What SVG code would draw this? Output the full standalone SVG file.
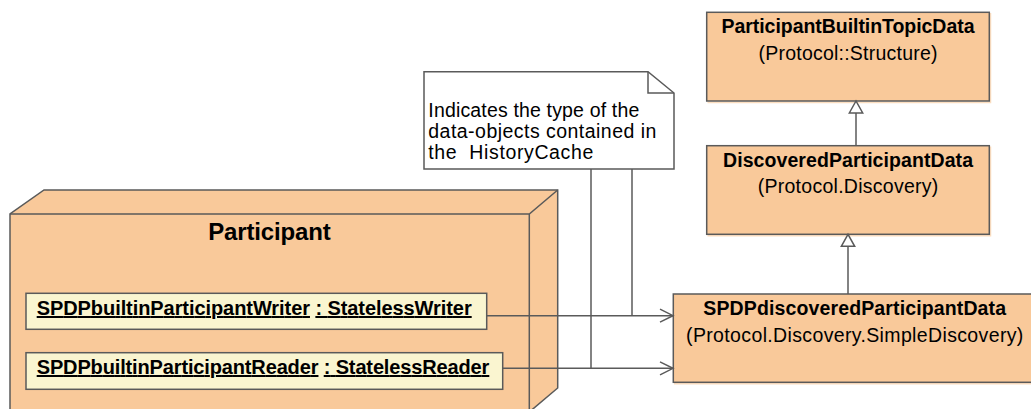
<svg xmlns="http://www.w3.org/2000/svg" width="1031" height="409" viewBox="0 0 1031 409">
<defs>
<style>
.node{fill:#F9C99A;stroke:#5A5A5A;stroke-width:1.5}
.hl{fill:none;stroke:#FCDEC0;stroke-width:1.5}
.part{fill:#FAF5D0;stroke:#5A5A5A;stroke-width:1.5}
.note{fill:#FFFFFF;stroke:#5A5A5A;stroke-width:1.5}
.edge{fill:none;stroke:#5A5A5A;stroke-width:1.5}
text{font-family:"Liberation Sans",Arial,Helvetica,sans-serif;fill:#000000}
.b{font-weight:bold;font-size:19.5px}
.r{font-size:19.5px}
.n{font-size:19.5px}
.pb{font-weight:bold;font-size:20px}
.big{font-weight:bold;font-size:24px}
.c{text-anchor:middle}
.u{text-decoration:underline}
</style>
<marker id="openArrow" markerUnits="userSpaceOnUse" markerWidth="16" markerHeight="16" viewBox="0 0 16 16" refX="14" refY="8" orient="auto">
<path d="M1,1.5 L14,8 L1,14.5" fill="none" stroke="#5A5A5A" stroke-width="1.5"/>
</marker>
<marker id="genArrow" markerUnits="userSpaceOnUse" markerWidth="16" markerHeight="16" viewBox="0 0 16 16" refX="13.5" refY="8" orient="auto">
<path d="M1.5,1.3 L13.5,8 L1.5,14.7 Z" fill="#FFFFFF" stroke="#5A5A5A" stroke-width="1.5"/>
</marker>
</defs>

<g id="participant">
<path class="node" d="M10,420 V214 L44,190 H557.7 V388 L529.3,412 V420 Z"/>
<path class="edge" d="M10,214 H529.3 L557.7,190 M529.3,214 V420"/>
<text class="big c" x="269.5" y="240" textLength="122.7">Participant</text>
</g>

<g id="writer">
<rect class="part" x="26" y="293.3" width="460.7" height="36"/>
<text class="pb" x="36.7" y="315" textLength="435"><tspan class="u">SPDPbuiltinParticipantWriter</tspan> <tspan class="u">: StatelessWriter</tspan></text>
</g>

<g id="reader">
<rect class="part" x="26" y="352.7" width="476.7" height="36.6"/>
<text class="pb" x="36.7" y="374" textLength="452.6"><tspan class="u">SPDPbuiltinParticipantReader</tspan> <tspan class="u">: StatelessReader</tspan></text>
</g>

<g id="note">
<path class="note" d="M424,71.7 H648 L674,93 V169 H424 Z"/>
<path class="edge" d="M648,71.7 V93 H674"/>
<text class="n" x="428.3" y="116.5" textLength="211">Indicates the type of the</text>
<text class="n" x="428.3" y="137.5" textLength="228">data-objects contained in</text>
<text class="n" x="428.3" y="159" textLength="165" xml:space="preserve">the  HistoryCache</text>
</g>

<g id="participantBuiltinTopicData">
<path class="hl" d="M990.5,13 V102.5 H707.5"/>
<rect class="node" x="706.7" y="12.3" width="282.6" height="88.7"/>
<text class="b c" x="848" y="33" textLength="253">ParticipantBuiltinTopicData</text>
<text class="r c" x="848" y="59.5" textLength="179">(Protocol::Structure)</text>
</g>

<g id="discoveredParticipantData">
<path class="hl" d="M990.5,146.5 V235.8 H707.5"/>
<rect class="node" x="706.7" y="145.7" width="282.6" height="88.6"/>
<text class="b c" x="848" y="166.5" textLength="250">DiscoveredParticipantData</text>
<text class="r c" x="848" y="193" textLength="180.7">(Protocol.Discovery)</text>
</g>

<g id="spdpDiscoveredParticipantData">
<path class="hl" d="M674,383.8 H1040"/>
<rect class="node" x="673.3" y="294" width="362.7" height="88.3"/>
<text class="b c" x="854.7" y="315" textLength="302.7">SPDPdiscoveredParticipantData</text>
<text class="r c" x="854.7" y="341.5" textLength="337.3">(Protocol.Discovery.SimpleDiscovery)</text>
</g>

<g id="connectors">
<path class="edge" d="M486.7,315.7 H673" marker-end="url(#openArrow)"/>
<path class="edge" d="M502.7,368.3 H673" marker-end="url(#openArrow)"/>
<path class="edge" d="M591,169 V368.3"/>
<path class="edge" d="M632,169 V315.7"/>
<path class="edge" d="M856,145.7 V101" marker-end="url(#genArrow)"/>
<path class="edge" d="M848,294 V234.3" marker-end="url(#genArrow)"/>
</g>
</svg>
